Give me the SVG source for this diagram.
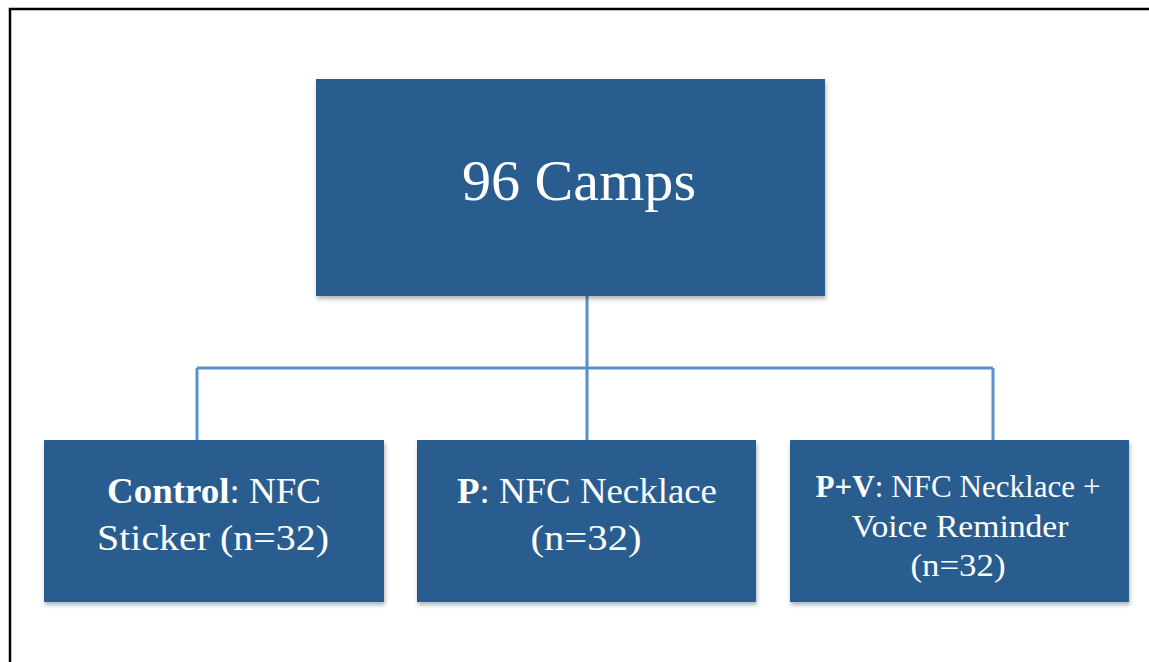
<svg xmlns="http://www.w3.org/2000/svg" width="1149" height="662" viewBox="0 0 1149 662">
<style>
.box{fill:#2a5d8f;filter:url(#sh)}
.t{fill:#ffffff;font-family:"Liberation Serif","DejaVu Serif",serif;text-anchor:middle}
.b{font-weight:bold}
.c{stroke:#5b90c8;stroke-width:3;fill:none}
</style>
<defs>
<filter id="sh" x="-5%" y="-5%" width="110%" height="115%">
<feDropShadow dx="1" dy="3" stdDeviation="2" flood-color="#000" flood-opacity="0.3"/>
</filter>
</defs>
<rect width="1149" height="662" fill="#ffffff"/>
<path d="M10,662 V9 H1149" stroke="#000" stroke-width="2.5" fill="none"/>
<g id="connectors">
<path class="c" d="M587,296 V440 M197,368 H993 M197,368 V440 M993,368 V440"/>
</g>
<g id="top">
<rect class="box" x="316" y="79" width="509" height="217"/>
<text class="t" x="579" y="200" font-size="58" textLength="234" lengthAdjust="spacingAndGlyphs">96 Camps</text>
</g>
<g id="control">
<rect class="box" x="44" y="440" width="340" height="162"/>
<text class="t" x="214" y="503" font-size="36" textLength="214" lengthAdjust="spacingAndGlyphs"><tspan class="b">Control</tspan>: NFC</text>
<text class="t" x="213" y="550" font-size="36" textLength="232" lengthAdjust="spacingAndGlyphs">Sticker (n=32)</text>
</g>
<g id="p">
<rect class="box" x="417" y="440" width="339" height="162"/>
<text class="t" x="587" y="503" font-size="36" textLength="260" lengthAdjust="spacingAndGlyphs"><tspan class="b">P</tspan>: NFC Necklace</text>
<text class="t" x="586" y="550" font-size="36" textLength="111" lengthAdjust="spacingAndGlyphs">(n=32)</text>
</g>
<g id="pv">
<rect class="box" x="790" y="440" width="339" height="162"/>
<text class="t" x="958" y="497" font-size="32" textLength="285" lengthAdjust="spacingAndGlyphs"><tspan class="b">P+V</tspan>: NFC Necklace +</text>
<text class="t" x="960" y="537" font-size="32" textLength="217" lengthAdjust="spacingAndGlyphs">Voice Reminder</text>
<text class="t" x="958" y="576" font-size="32" textLength="95" lengthAdjust="spacingAndGlyphs">(n=32)</text>
</g>
</svg>
